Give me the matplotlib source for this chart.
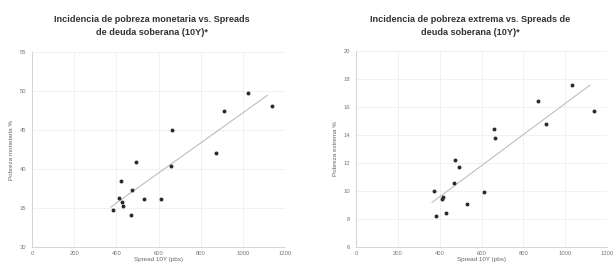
import matplotlib
matplotlib.use("Agg")
import matplotlib.pyplot as plt
import numpy as np

plt.rcParams['font.family'] = ['Liberation Sans', 'DejaVu Sans']

# Left chart: monetary poverty vs spreads
spread_mon = [383, 414, 421, 427, 432, 471, 474, 493, 533, 612, 661, 663, 871, 911, 1026, 1137]
pobreza_mon = [34.8, 36.3, 38.4, 35.8, 35.3, 34.1, 37.3, 40.9, 36.2, 36.2, 40.4, 45.0, 42.1, 47.4, 49.8, 48.1]

# Right chart: extreme poverty vs spreads
spread_ext = [373, 382, 410, 417, 429, 470, 472, 492, 531, 612, 660, 665, 872, 908, 1031, 1138]
pobreza_ext = [10.0, 8.2, 9.4, 9.6, 8.4, 10.6, 12.2, 11.7, 9.1, 9.9, 14.4, 13.8, 16.45, 14.8, 17.6, 15.7]

title_mon = "Incidencia de pobreza monetaria vs. Spreads\nde deuda soberana (10Y)*"
title_ext = "Incidencia de pobreza extrema vs. Spreads de\ndeuda soberana (10Y)*"
xlabel = "Spread 10Y (pbs)"
ylabel_mon = "Pobreza monetaria %"
ylabel_ext = "Pobreza extrema %"

x_ticks = [0, 200, 400, 600, 800, 1000, 1200]
y_ticks_mon = [30, 35, 40, 45, 50, 55]
y_ticks_ext = [6, 8, 10, 12, 14, 16, 18, 20]

fig = plt.figure(figsize=(6.15, 2.65), dpi=100)
axL = fig.add_axes([32/615, 18/265, 253/615, 195/265])
axR = fig.add_axes([356/615, 18/265, 251/615, 196/265])

def style(ax, x, y, yt, title, ylabel, tx):
    ax.scatter(x, y, s=8, color='#2b2b2b', zorder=3, linewidths=0)
    m, b = np.polyfit(x, y, 1)
    xs = np.array([min(x) - 10, max(x) - 20])
    ax.plot(xs, m * xs + b, color='#b5b5b5', lw=0.7, zorder=2)
    ax.set_xlim(0, 1200)
    ax.set_ylim(yt[0], yt[-1])
    ax.set_xticks(x_ticks)
    ax.set_yticks(yt)
    ax.tick_params(labelsize=4.2, colors='#777777', length=0, pad=4)
    ax.tick_params(axis='x', pad=3)
    for s in ['top', 'right']:
        ax.spines[s].set_visible(False)
    for s in ['left', 'bottom']:
        ax.spines[s].set_color('#cfcfcf')
        ax.spines[s].set_linewidth(0.6)
    ax.grid(True, color='#ececec', lw=0.5)
    ax.set_axisbelow(True)
    ax.set_xlabel(xlabel, fontsize=4.5, color='#666666', labelpad=0.5)
    ax.set_ylabel(ylabel, fontsize=4.5, color='#666666', labelpad=4)
    fig.text(tx, 1 - 26/265, title, ha='center', va='center', fontsize=6.6,
             fontweight='bold', color='#333333', linespacing=1.55)

style(axL, spread_mon, pobreza_mon, y_ticks_mon, title_mon, ylabel_mon, 152/615)
style(axR, spread_ext, pobreza_ext, y_ticks_ext, title_ext, ylabel_ext, 470/615)

fig.savefig("out.png", dpi=100)
